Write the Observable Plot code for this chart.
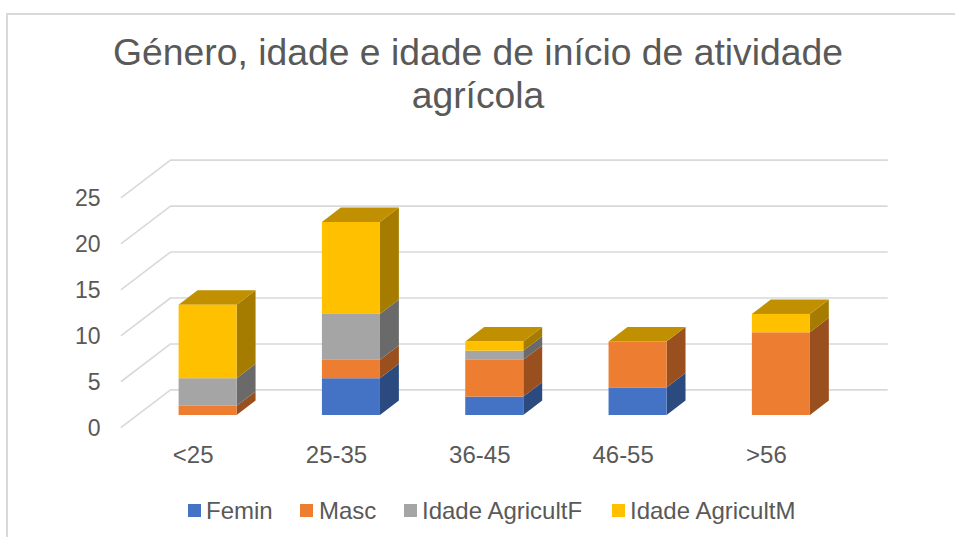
<!DOCTYPE html>
<html lang="pt">
<head>
<meta charset="utf-8">
<script src="https://cdn.jsdelivr.net/npm/d3@7"></script>
<script src="https://cdn.jsdelivr.net/npm/@observablehq/plot@0.6"></script>
<style>
html,body{margin:0;padding:0;background:#fff;overflow:hidden;width:955px;height:537px}
body{font-family:"Liberation Sans",Arial,sans-serif;color:#595959;position:relative}
#frame{position:absolute;left:6px;top:13px;width:960px;height:600px;border:2px solid #d9d9d9;box-sizing:border-box}
#title{position:absolute;left:0;top:31px;width:956px;text-align:center;font-size:37.3px;line-height:43px}
#chart{position:absolute;left:0;top:130px}
#chart svg{display:block;overflow:visible}
#legend{position:absolute;left:0;top:498px;width:955px;height:26px;font-size:24px;line-height:26px}
#legend span{position:absolute;top:0;white-space:nowrap}
#legend i{position:absolute;top:6px;width:13px;height:13px}
</style>
</head>
<body>
<div id="frame"></div>
<div id="title">Género, idade e idade de início de atividade<br>agrícola</div>
<div id="chart"></div>
<div id="legend"></div>
<script>
const categories = ["<25", "25-35", "36-45", "46-55", ">56"];
const seriesNames = ["Femin", "Masc", "Idade AgricultF", "Idade AgricultM"];
const femin = [0, 4, 2, 3, 0];
const masc = [1, 2, 4, 5, 9];
const idadeF = [3, 5, 1, 0, 0];
const idadeM = [8, 10, 1, 0, 2];
const yTicks = [0, 5, 10, 15, 20, 25];

const frontColors = ["#4472C4", "#ED7D31", "#A5A5A5", "#FFC000"];
const sideColors = ["#2A4A80", "#9A4F1E", "#6A6A6A", "#A67C00"];
const topColor = "#C09000";

// Oblique projection, in scale units
const wallDx = 0.342, wallDy = 4.06;
const barD0 = 0.314, barD1 = 0.70, barWidth = 0.405, barNudge = -0.003;

const values = [femin, masc, idadeF, idadeM];
const fronts = [], sides = [], tops = [];
categories.forEach((cat, i) => {
  const xL = i + 0.5 - barWidth / 2 + wallDx * barD0 + barNudge;
  const xR = xL + barWidth;
  const dx = wallDx * (barD1 - barD0), dy = wallDy * (barD1 - barD0);
  const lift = wallDy * barD0;
  let acc = 0;
  values.forEach((vals, s) => {
    const v = vals[i];
    if (v > 0) {
      fronts.push({x1: xL, x2: xR, y1: acc + lift, y2: acc + v + lift, fill: frontColors[s]});
      const key = cat + s;
      sides.push({key, x: xR, y1: acc + lift, y2: acc + v + lift, fill: sideColors[s]});
      sides.push({key, x: xR + dx, y1: acc + lift + dy, y2: acc + v + lift + dy, fill: sideColors[s]});
    }
    acc += v;
  });
  tops.push({key: cat, y: acc + lift, x1: xL, x2: xR});
  tops.push({key: cat, y: acc + lift + dy, x1: xL + dx, x2: xR + dx});
});

const walls = yTicks.flatMap(v => [
  {v, x: 0, y: v},
  {v, x: wallDx, y: v + wallDy},
  {v, x: categories.length + wallDx, y: v + wallDy}
]);

const plot = Plot.plot({
  width: 955,
  height: 355,
  marginLeft: 121,
  marginRight: 68,
  marginTop: 0,
  marginBottom: 0,
  x: {type: "linear", domain: [0, 5], range: [121, 837.6], axis: null},
  y: {type: "linear", domain: [0, 30], range: [296.7, 21]},
  style: {fontFamily: "Liberation Sans, Arial, sans-serif", color: "#595959", background: "transparent"},
  marks: [
    Plot.line(walls, {x: "x", y: "y", z: "v", stroke: "#d9d9d9", strokeWidth: 1.6}),
    Plot.areaY(sides, {x: "x", y1: "y1", y2: "y2", z: "key", fill: "fill"}),
    Plot.areaX(tops, {y: "y", x1: "x1", x2: "x2", z: "key", fill: topColor}),
    Plot.rect(fronts, {x1: "x1", x2: "x2", y1: "y1", y2: "y2", fill: "fill"}),
    Plot.axisY({ticks: yTicks, tickSize: 0, tickPadding: 21, fontSize: 23, dy: 1, label: null, tickFormat: d => String(d), fill: "#595959"}),
    Plot.text(categories, {
      x: (d, i) => i + 0.5,
      y: () => -3.1,
      text: d => d,
      fontSize: 24,
      fill: "#595959",
      clip: false
    })
  ]
});
document.getElementById("chart").appendChild(plot);

const legend = document.getElementById("legend");
const swatchX = [188, 300, 404, 612];
const labelX = [206, 319, 422, 630];
seriesNames.forEach((name, s) => {
  const sw = document.createElement("i");
  sw.style.left = swatchX[s] + "px";
  sw.style.background = frontColors[s];
  legend.appendChild(sw);
  const t = document.createElement("span");
  t.style.left = labelX[s] + "px";
  t.textContent = name;
  legend.appendChild(t);
});
</script>
</body>
</html>
